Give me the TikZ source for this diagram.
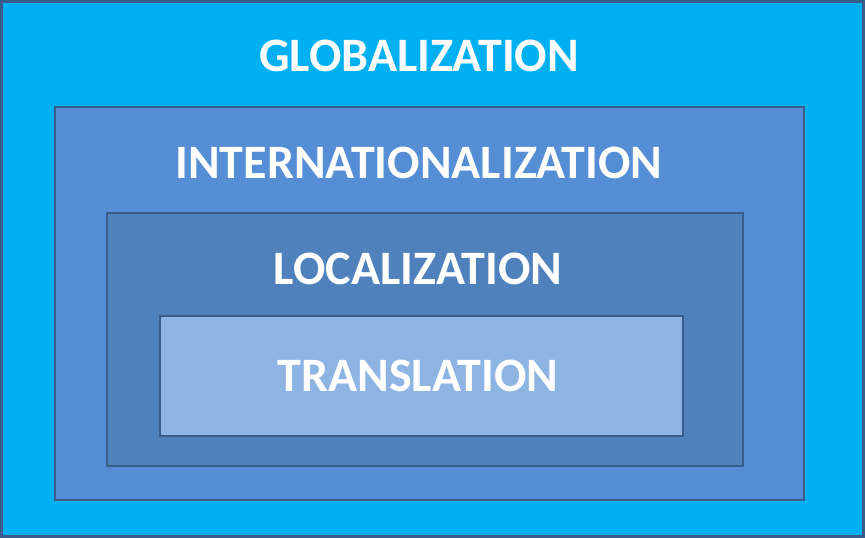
\documentclass[tikz,border=0pt]{standalone}
\usepackage{fontspec}
\setmainfont{Carlito}
\usepackage{tikz}
\usetikzlibrary{positioning}

\definecolor{globcol}{HTML}{00B0F0}
\definecolor{intlcol}{HTML}{558ED5}
\definecolor{loccol}{HTML}{4F81BD}
\definecolor{transcol}{HTML}{8EB4E3}
\definecolor{edgecol}{HTML}{385D8A}

\begin{document}
\begin{tikzpicture}[x=1pt, y=-1pt,
    layer/.style={draw=edgecol, line width=2.6pt, rectangle, inner sep=0pt, outer sep=0pt},
    label/.style={text=white, font=\fontsize{48}{50}\selectfont\bfseries, anchor=base, inner sep=0pt}]
    \useasboundingbox (0,0) rectangle (865,538);

    \node [layer, fill=globcol, minimum width=862pt, minimum height=535pt] (glob) at (432.5,269) {};
    \node [layer, fill=intlcol, minimum width=749pt, minimum height=393pt] (intl) at (429.5,303.5) {};
    \node [layer, fill=loccol, minimum width=636pt, minimum height=253pt] (loc) at (425,339.5) {};
    \node [layer, fill=transcol, minimum width=523pt, minimum height=120pt] (trans) at (421.5,376) {};

    \node [label] (globtext) at (419,71) {GLOBALIZATION};
    \node [label] (intltext) at (419,178) {INTERNATIONALIZATION};
    \node [label] (loctext) at (418,284) {LOCALIZATION};
    \node [label] (transtext) at (418,391) {TRANSLATION};
\end{tikzpicture}
\end{document}
